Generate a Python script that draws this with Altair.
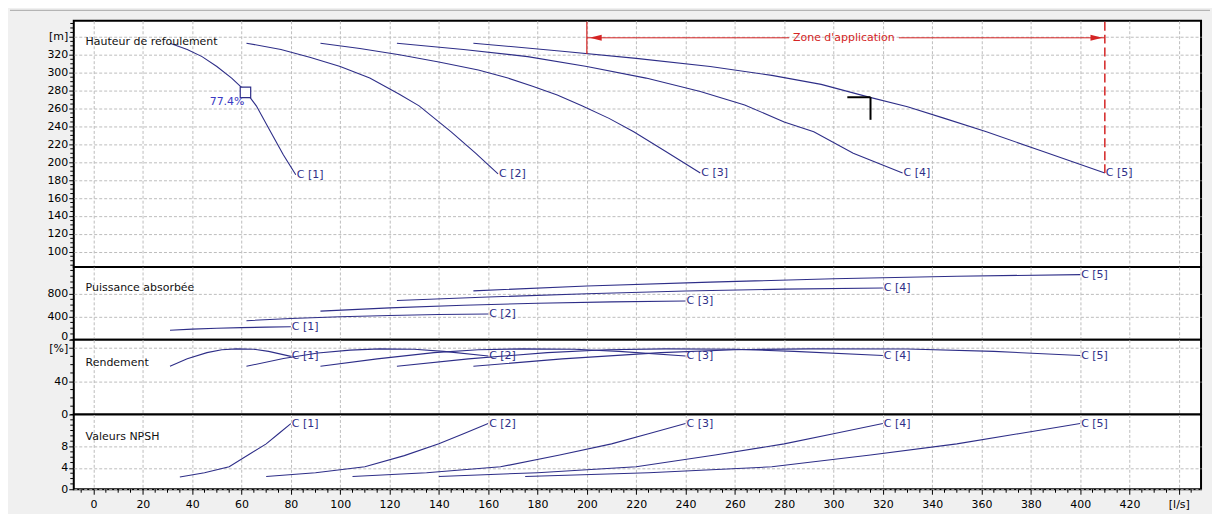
import altair as alt
import pandas as pd

CURVES = ["C [1]", "C [2]", "C [3]", "C [4]", "C [5]"]

# ---- Hauteur de refoulement [m] vs débit [l/s]
head_q_1 = [31, 38, 44, 50, 56, 61.4, 66, 71, 77, 82]
head_h_1 = [333, 326, 318, 307, 294, 280, 263, 238, 208, 186]
head_q_2 = [62, 76, 88, 100, 112, 124, 132, 145, 155, 164]
head_h_2 = [333, 326, 317, 307, 294, 276, 263, 234, 210, 187]
head_q_3 = [92, 108, 124, 140, 156, 168, 178, 188, 198, 209, 219, 232, 246]
head_h_3 = [333, 327, 320, 312, 303, 294, 285, 275, 263, 249, 234, 212, 188]
head_q_4 = [123, 150, 176, 200, 224, 246, 264, 280, 292, 308, 328]
head_h_4 = [333, 326, 318, 307, 294, 279, 264, 245, 234, 210, 188]
head_q_5 = [154, 190, 220, 250, 275, 295, 314, 330, 345, 362, 385, 410]
head_h_5 = [333, 324, 316, 307, 297, 287, 273, 262, 249, 234, 212, 188]

# ---- Puissance absorbée
pow_q_1 = [31, 40, 50, 60, 70, 80]
pow_p_1 = [165, 184, 199, 210, 218, 224]
pow_q_2 = [62, 80, 100, 120, 140, 160]
pow_p_2 = [330, 368, 398, 420, 436, 446]
pow_q_3 = [92, 120, 150, 180, 210, 240]
pow_p_3 = [495, 552, 597, 632, 656, 672]
pow_q_4 = [123, 160, 200, 240, 280, 320]
pow_p_4 = [680, 740, 796, 843, 876, 896]
pow_q_5 = [154, 200, 250, 300, 350, 400]
pow_p_5 = [846, 930, 998, 1056, 1100, 1128]

# ---- Rendement [%]
eff_q_1 = [31, 38, 46, 52, 58, 65, 71, 80]
eff_e_1 = [58, 67, 74.5, 78, 79, 78.5, 76, 70]
eff_q_2 = [62, 77, 91, 104, 116, 130, 142, 160]
eff_e_2 = [58, 67.5, 74, 77.5, 79, 78.5, 76, 70.5]
eff_q_3 = [92, 115, 138, 156, 174, 195, 213, 240]
eff_e_3 = [58, 67, 74.5, 78, 79, 78.5, 76, 70.5]
eff_q_4 = [123, 152, 184, 208, 232, 260, 284, 320]
eff_e_4 = [58, 67, 74.5, 78, 79, 78.5, 76, 71]
eff_q_5 = [154, 190, 230, 260, 290, 330, 365, 400]
eff_e_5 = [58, 67, 74.5, 78, 79, 78.8, 76, 71]

# ---- Valeurs NPSH
npsh_q_1 = [35, 45, 55, 63, 70, 75, 80]
npsh_n_1 = [2.3, 3.1, 4.2, 6.5, 8.5, 10.4, 12.3]
npsh_q_2 = [70, 90, 110, 126, 140, 150, 160]
npsh_n_2 = [2.4, 3.1, 4.2, 6.3, 8.5, 10.4, 12.3]
npsh_q_3 = [105, 135, 165, 189, 210, 225, 240]
npsh_n_3 = [2.4, 3.1, 4.2, 6.4, 8.5, 10.4, 12.3]
npsh_q_4 = [140, 180, 220, 252, 280, 300, 320]
npsh_n_4 = [2.4, 3.1, 4.2, 6.4, 8.5, 10.4, 12.3]
npsh_q_5 = [175, 225, 275, 315, 350, 375, 400]
npsh_n_5 = [2.4, 3.1, 4.2, 6.4, 8.5, 10.4, 12.3]

# ---- axis tick values
x_major = list(range(0, 441, 20))
x_minor = [v for v in range(-5, 446, 5) if v % 20 != 0 or v < 0]
head_major = list(range(100, 341, 20))
head_minor = [v for v in range(85, 356, 5) if v not in head_major]
pow_major = [0, 400, 800]
pow_minor = [v for v in range(100, 1201, 100) if v not in pow_major]
eff_major = [0, 40, 80]
eff_minor = [v for v in range(10, 91, 10) if v not in eff_major]
npsh_major = [0, 4, 8]
npsh_minor = [v for v in range(1, 15) if v not in npsh_major]

# ---- annotations
duty_q, duty_h, duty_eff = 61.6, 278, "77.4%"
zone_q_start, zone_q_end, zone_h = 200, 410, 339
zone_text = "Zone d'application"
zone_text_q = 304.2
zone_gap = [282, 326.5]
cursor_q = [305.6, 315]
cursor_h = [272.6, 247.4]

LINE = "#2e2e88"
GRID = "#bdbdbd"
RED = "#d42424"
FONT = "DejaVu Sans"
W = 1131
X_DOM = [-8, 449]


def long_df(qs, vs):
    rows = []
    for name, q, v in zip(CURVES, qs, vs):
        for a, b in zip(q, v):
            rows.append({"curve": name, "q": a, "v": b})
    return pd.DataFrame(rows)


def ends(df):
    return df.groupby("curve", as_index=False).last()


def xs():
    return alt.Scale(domain=X_DOM, nice=False, zero=False)


def panel(df, y_dom, y_major, y_minor, label_expr, height,
          title_text, title_v, bottom=False, extra=None, lift_zero=False):
    ys = alt.Scale(domain=y_dom, nice=False, zero=False)
    if bottom:
        xaxis = alt.Axis(
            values=x_major, title=None, grid=True, gridColor=GRID, gridDash=[3, 2],
            domain=False, tickColor="black", tickSize=5,
            labelExpr="datum.value === 440 ? '[l/s]' : datum.label",
            labelOverlap=False, labelFlush=False, labelPadding=4,
            labelFont=FONT, labelFontSize=11, labelColor="black")
    else:
        xaxis = alt.Axis(values=x_major, title=None, grid=True,
                         gridColor=GRID, gridDash=[3, 2], domain=False,
                         ticks=False, labels=False)
    yopts = dict(
        values=y_major, title=None, grid=True, gridColor=GRID, gridDash=[3, 2],
        domain=False, tickColor="black", tickSize=5,
        labelExpr=label_expr, labelOverlap=False, labelFlush=False,
        labelPadding=1, labelFont=FONT, labelFontSize=11, labelColor="black")
    if lift_zero:
        yopts["labelBaseline"] = {"condition": {"test": "datum.value === 0", "value": "alphabetic"},
                                  "value": "middle"}
    yaxis = alt.Axis(**yopts)

    X = lambda f: alt.X(f, scale=xs(), axis=xaxis)
    Y = lambda f: alt.Y(f, scale=ys, axis=yaxis)

    lines = alt.Chart(df).mark_line(color=LINE, strokeWidth=1.1).encode(
        x=X("q:Q"), y=Y("v:Q"), detail="curve:N")
    labels = alt.Chart(ends(df)).mark_text(
        align="left", baseline="middle", dx=1, color=LINE, font=FONT, fontSize=11
    ).encode(x=X("q:Q"), y=Y("v:Q"), text="curve:N")
    ttl = alt.Chart(pd.DataFrame({"q": [-3.2], "v": [title_v], "t": [title_text]})).mark_text(
        align="left", baseline="middle", color="#111111", font=FONT, fontSize=11
    ).encode(x=X("q:Q"), y=Y("v:Q"), text="t:N")
    yminor = alt.Chart(pd.DataFrame({"v": y_minor})).mark_rule(color="black", strokeWidth=1).encode(
        x=alt.value(-3.5), x2=alt.value(0), y=Y("v:Q"))
    layers = [lines, yminor]
    if bottom:
        xminor = alt.Chart(pd.DataFrame({"q": x_minor})).mark_rule(color="black", strokeWidth=1).encode(
            x=X("q:Q"), y=alt.value(height), y2=alt.value(height + 3.5))
        layers.append(xminor)
    if extra:
        layers += extra(X, Y)
    layers += [labels, ttl]
    return alt.layer(*layers).properties(width=W, height=height)


def head_extras(X, Y):
    zone_df = pd.DataFrame({"q": [zone_q_start, zone_gap[1]], "q2": [zone_gap[0], zone_q_end],
                            "v": [zone_h, zone_h]})
    zone_line = alt.Chart(zone_df).mark_rule(color=RED, strokeWidth=1).encode(
        x=X("q:Q"), x2="q2:Q", y=Y("v:Q"))
    vstart = alt.Chart(pd.DataFrame({"q": [zone_q_start], "v": [357], "v2": [321]})).mark_rule(
        color=RED, strokeWidth=1.2).encode(x=X("q:Q"), y=Y("v:Q"), y2="v2:Q")
    vend = alt.Chart(pd.DataFrame({"q": [zone_q_end], "v": [357], "v2": [188]})).mark_rule(
        color=RED, strokeWidth=1.5, strokeDash=[9, 4]).encode(x=X("q:Q"), y=Y("v:Q"), y2="v2:Q")
    arr_l = alt.Chart(pd.DataFrame({"q": [203.6], "v": [zone_h]})).mark_point(
        shape="M-1,0L1,-0.5L1,0.5Z", size=144, filled=True, color=RED, opacity=1).encode(
        x=X("q:Q"), y=Y("v:Q"))
    arr_r = alt.Chart(pd.DataFrame({"q": [406.6], "v": [zone_h]})).mark_point(
        shape="M1,0L-1,-0.5L-1,0.5Z", size=144, filled=True, color=RED, opacity=1).encode(
        x=X("q:Q"), y=Y("v:Q"))
    ztext = alt.Chart(pd.DataFrame({"q": [zone_text_q], "v": [zone_h], "t": [zone_text]})).mark_text(
        align="center", baseline="middle", color=RED, font=FONT, fontSize=11).encode(
        x=X("q:Q"), y=Y("v:Q"), text="t:N")
    cur_h = alt.Chart(pd.DataFrame({"q": [cursor_q[0]], "q2": [cursor_q[1]], "v": [cursor_h[0]]})).mark_rule(
        color="black", strokeWidth=2).encode(x=X("q:Q"), x2="q2:Q", y=Y("v:Q"))
    cur_v = alt.Chart(pd.DataFrame({"q": [cursor_q[1]], "v": [cursor_h[0]], "v2": [cursor_h[1]]})).mark_rule(
        color="black", strokeWidth=2).encode(x=X("q:Q"), y=Y("v:Q"), y2="v2:Q")
    marker = alt.Chart(pd.DataFrame({"q": [duty_q], "v": [duty_h]})).mark_point(
        shape="square", size=110, filled=True, fill="white", stroke=LINE, strokeWidth=1.2, opacity=1).encode(
        x=X("q:Q"), y=Y("v:Q"))
    pct = alt.Chart(pd.DataFrame({"q": [61.2], "v": [267.5], "t": [duty_eff]})).mark_text(
        align="right", baseline="middle", color="#3a3ac4", font=FONT, fontSize=11).encode(
        x=X("q:Q"), y=Y("v:Q"), text="t:N")
    top_rule = alt.Chart(pd.DataFrame({"a": [0]})).mark_rule(color="#a8a8a8", strokeWidth=1).encode(
        x=alt.value(-64), x2=alt.value(1140), y=alt.value(-10.5))
    return [zone_line, vstart, vend, arr_l, arr_r, ztext, cur_h, cur_v, marker, pct, top_rule]


head_df = long_df([head_q_1, head_q_2, head_q_3, head_q_4, head_q_5],
                  [head_h_1, head_h_2, head_h_3, head_h_4, head_h_5])
pow_df = long_df([pow_q_1, pow_q_2, pow_q_3, pow_q_4, pow_q_5],
                 [pow_p_1, pow_p_2, pow_p_3, pow_p_4, pow_p_5])
eff_df = long_df([eff_q_1, eff_q_2, eff_q_3, eff_q_4, eff_q_5],
                 [eff_e_1, eff_e_2, eff_e_3, eff_e_4, eff_e_5])
npsh_df = long_df([npsh_q_1, npsh_q_2, npsh_q_3, npsh_q_4, npsh_q_5],
                  [npsh_n_1, npsh_n_2, npsh_n_3, npsh_n_4, npsh_n_5])

p1 = panel(head_df, [83, 358], head_major, head_minor,
           "datum.value === 340 ? '[m]' : datum.label", 247,
           "Hauteur de refoulement", 334.6, extra=head_extras)
p2 = panel(pow_df, [0, 1260], pow_major, pow_minor, "datum.label", 73,
           "Puissance absorbée", 898, lift_zero=True)
p3 = panel(eff_df, [0, 90], eff_major, eff_minor,
           "datum.value === 80 ? '[%]' : datum.label", 75,
           "Rendement", 62.4)
p4 = panel(npsh_df, [0, 14], npsh_major, npsh_minor, "datum.label", 75,
           "Valeurs NPSH", 9.76, bottom=True)

chart = alt.vconcat(p1, p2, p3, p4, spacing=0, bounds="flush").properties(
    padding={"left": 0, "top": 0, "right": 0, "bottom": 3},
    background="#f0f0f0",
).configure(font=FONT).configure_view(stroke="black", strokeWidth=2, fill="white")

chart.save("out.html", embed_options={"renderer": "svg", "actions": False})
